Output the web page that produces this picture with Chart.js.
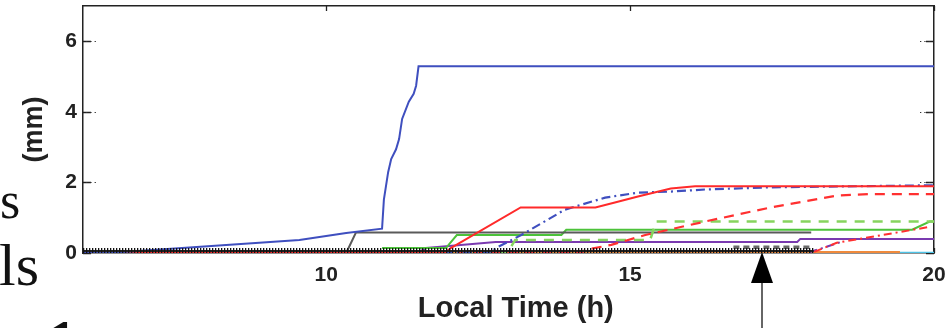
<!DOCTYPE html>
<html><head><meta charset="utf-8">
<script src="https://cdn.jsdelivr.net/npm/chart.js@4.4.1/dist/chart.umd.min.js"></script>
<style>
html,body{margin:0;padding:0;background:#fff;}
#wrap{position:relative;width:948px;height:328px;overflow:hidden;background:#fff;}
#wrap canvas{position:absolute;left:0;top:0;}
.frag{position:absolute;font-family:"Liberation Serif","Times New Roman",serif;color:#111;line-height:1;white-space:nowrap;}
#arrow{position:absolute;left:745px;top:248px;}
</style></head><body>
<div id="wrap">
<canvas id="c" width="948" height="328"></canvas>
<div class="frag" style="left:0px;top:175px;font-size:52px;">s</div>
<div class="frag" style="left:-1px;top:235px;font-size:60px;">ls</div>
<div class="frag" style="left:49px;top:313px;font-size:54px;font-weight:bold;">1</div>
<svg id="arrow" width="36" height="80" viewBox="0 0 36 80">
  <line x1="17" y1="34" x2="17" y2="80" stroke="#333" stroke-width="1.5"/>
  <polygon points="17,4 6,35 28,35" fill="#000"/>
</svg>
</div>
<script>
// ---- data (hours, mm) ----
const xTickLabels = [10, 15, 20];
const yTickLabels = [0, 2, 4, 6];

const blueSolidH  = [6.0, 6.66, 8.9, 9.56, 10.33, 10.92, 10.95, 11.02, 11.07, 11.15, 11.2, 11.25, 11.36, 11.44, 11.48, 11.52, 20];
const blueSolidMM = [0.0, 0.03, 0.29, 0.37, 0.57, 0.69, 1.51, 2.29, 2.66, 2.94, 3.23, 3.8, 4.29, 4.51, 4.74, 5.29, 5.29];

const graySolidH  = [6, 10.33, 10.49, 17.98];
const graySolidMM = [0, 0, 0.58, 0.58];

const greenSolidH  = [10.92, 11.97, 12.15, 13.87, 13.95, 19.64, 19.93, 20];
const greenSolidMM = [0.14, 0.14, 0.51, 0.51, 0.66, 0.66, 0.89, 0.89];

const redSolidH  = [6, 11.95, 12.05, 13.2, 14.43, 14.75, 15.13, 15.67, 16.07, 20];
const redSolidMM = [0, 0, 0.14, 1.29, 1.29, 1.43, 1.6, 1.83, 1.89, 1.89];

const blueDashDotH  = [6, 12.7, 12.79, 13.21, 13.93, 14.59, 15.13, 15.67, 16.23, 17.31, 20];
const blueDashDotMM = [0, 0, 0.14, 0.51, 1.23, 1.57, 1.71, 1.74, 1.8, 1.86, 1.92];

const redDashedH  = [6, 14.2, 14.26, 14.69, 15.25, 16.23, 17.31, 18.41, 18.95, 20];
const redDashedMM = [0, 0, 0.09, 0.23, 0.51, 0.89, 1.29, 1.63, 1.67, 1.67];

const greenDashedH  = [6, 12.97, 13.03, 13.11, 15.33, 15.43, 20];
const greenDashedMM = [0, 0, 0.14, 0.37, 0.37, 0.89, 0.89];

const purpleSolidH  = [6, 11.5, 11.64, 12.79, 17.75, 17.8, 20];
const purpleSolidMM = [0, 0, 0.14, 0.31, 0.31, 0.4, 0.4];

const redDashDotH  = [18.03, 18.4, 19.93];
const redDashDotMM = [0.03, 0.29, 0.74];

const purpleDashDotH  = [17.95, 18.45];
const purpleDashDotMM = [0.02, 0.3];

const orangeH  = [9.44, 19.44];
const orangeMM = [0.02, 0.02];

const cyanH  = [8.79, 20];
const cyanMM = [0, 0];

const blackBandH  = [6, 18.02];
const blackBandMM = [0.06, 0.06];

const grayBlocksH  = [16.7, 18.0];
const grayBlocksMM = [0.16, 0.16];

// ---- build ----
const pts = (xs, ys) => xs.map((x, i) => ({x: x, y: ys[i]}));
const line = (label, xs, ys, color, width, dash) => ({
  label, data: pts(xs, ys), borderColor: color, borderWidth: width,
  borderDash: dash || [], pointRadius: 0, tension: 0, fill: false
});

const BOLD = '"Liberation Sans", Arial, Helvetica, sans-serif';

const frameTicks = {
  id: 'frameTicks',
  beforeDatasetsDraw(chart) {
    const {ctx, chartArea: a, scales} = chart;
    const y = scales.y, x = scales.x;
    ctx.save();
    ctx.strokeStyle = '#222';
    ctx.lineWidth = 1.3;
    ctx.beginPath();
    y.ticks.forEach(t => {
      const p = Math.round(y.getPixelForValue(t.value)) + 0.5;
      ctx.moveTo(a.left, p); ctx.lineTo(a.left + 8, p);
      ctx.moveTo(a.right, p); ctx.lineTo(a.right - 8, p);
    });
    x.ticks.forEach(t => {
      const p = Math.round(x.getPixelForValue(t.value)) + 0.5;
      ctx.moveTo(p, a.top); ctx.lineTo(p, a.top + 5);
      ctx.moveTo(p, a.bottom); ctx.lineTo(p, a.bottom - 5);
    });
    ctx.stroke();
    ctx.setLineDash([1.3, 3]);
    ctx.strokeStyle = '#333';
    ctx.lineWidth = 1;
    ctx.beginPath();
    y.ticks.forEach(t => {
      if (yTickLabels.includes(t.value) && t.value > 0) {
        const p = Math.round(y.getPixelForValue(t.value)) + 0.5;
        ctx.moveTo(a.left + 3, p); ctx.lineTo(a.left + 15, p);
        ctx.moveTo(a.right - 14, p); ctx.lineTo(a.right - 2, p);
      }
    });
    ctx.stroke();
    ctx.restore();
  }
};

const zeroPad = s => { s.paddingLeft = 0; s.paddingRight = 0; s.paddingTop = 0; s.paddingBottom = 0; };

new Chart(document.getElementById('c'), {
  type: 'line',
  data: {
    datasets: [
      line('black', blackBandH, blackBandMM, '#111', 6, [1.3, 1.7]),
      line('blackThin', blackBandH, blackBandMM, '#222', 2),
      line('grayBlocks', grayBlocksH, grayBlocksMM, '#6a6a6a', 3.5, [6, 4]),
      line('blueSolid', blueSolidH, blueSolidMM, '#3f4fbf', 2),
      line('redSolid', redSolidH, redSolidMM, '#ff2a2a', 2),
      line('blueDashDot', blueDashDotH, blueDashDotMM, '#3f4fbf', 2.2, [9, 4, 2, 4]),
      line('redDashed', redDashedH, redDashedMM, '#ff3030', 2.2, [10, 7]),
      line('greenDashed', greenDashedH, greenDashedMM, '#86d45e', 2.5, [10, 8]),
      line('redDashDot', redDashDotH, redDashDotMM, '#ff3030', 2, [8, 4, 2, 4]),
      line('purpleDashDot', purpleDashDotH, purpleDashDotMM, '#7a3ab0', 2, [8, 4, 2, 4]),
      line('graySolid', graySolidH, graySolidMM, '#5a5a5a', 2),
      line('greenSolid', greenSolidH, greenSolidMM, '#4cc23a', 2),
      line('purpleSolid', purpleSolidH, purpleSolidMM, '#7a3ab0', 2),
      line('orange', orangeH, orangeMM, '#f08a3c', 2.5),
      line('cyan', cyanH, cyanMM, '#4fc3e6', 2.5)
    ]
  },
  options: {
    responsive: false,
    animation: false,
    devicePixelRatio: 1,
    layout: { padding: 0 },
    plugins: { legend: { display: false }, tooltip: { enabled: false } },
    scales: {
      x: {
        type: 'linear', position: 'bottom', min: 6, max: 20,
        ticks: {
          stepSize: 1, autoSkip: false, maxRotation: 0, padding: 10, color: '#222',
          font: { family: BOLD, size: 21, weight: 'bold' },
          callback: v => xTickLabels.includes(v) ? String(v) : null
        },
        grid: { display: false, drawTicks: false },
        border: { display: true, color: '#222', width: 1.5 },
        title: { display: true, text: '\u2002Local Time (h)', color: '#222',
                 font: { family: BOLD, size: 29, weight: 'bold' }, padding: { top: 0, bottom: 2 } },
        afterFit(s) { s.height = 75; zeroPad(s); }
      },
      x2: {
        type: 'linear', position: 'top', min: 6, max: 20, display: true,
        ticks: { display: false }, grid: { display: false, drawTicks: false },
        border: { display: true, color: '#222', width: 1.5 },
        afterFit(s) { s.height = 6; zeroPad(s); }
      },
      y: {
        type: 'linear', position: 'left', min: 0, max: 7,
        ticks: {
          stepSize: 0.5, autoSkip: false, padding: 6, color: '#222',
          font: { family: BOLD, size: 21, weight: 'bold' },
          callback: v => yTickLabels.includes(v) ? String(v) : null
        },
        grid: { display: false, drawTicks: false },
        border: { display: true, color: '#222', width: 1.5 },
        title: { display: true, text: '(mm)', color: '#222',
                 font: { family: BOLD, size: 27, weight: 'bold' }, padding: { top: 18, bottom: 0 } },
        afterFit(s) { s.width = 83; zeroPad(s); }
      },
      y2: {
        type: 'linear', position: 'right', min: 0, max: 7, display: true,
        ticks: { display: false }, grid: { display: false, drawTicks: false },
        border: { display: true, color: '#222', width: 1.5 },
        afterFit(s) { s.width = 14; zeroPad(s); }
      }
    }
  },
  plugins: [frameTicks]
});
</script>
</body></html>
